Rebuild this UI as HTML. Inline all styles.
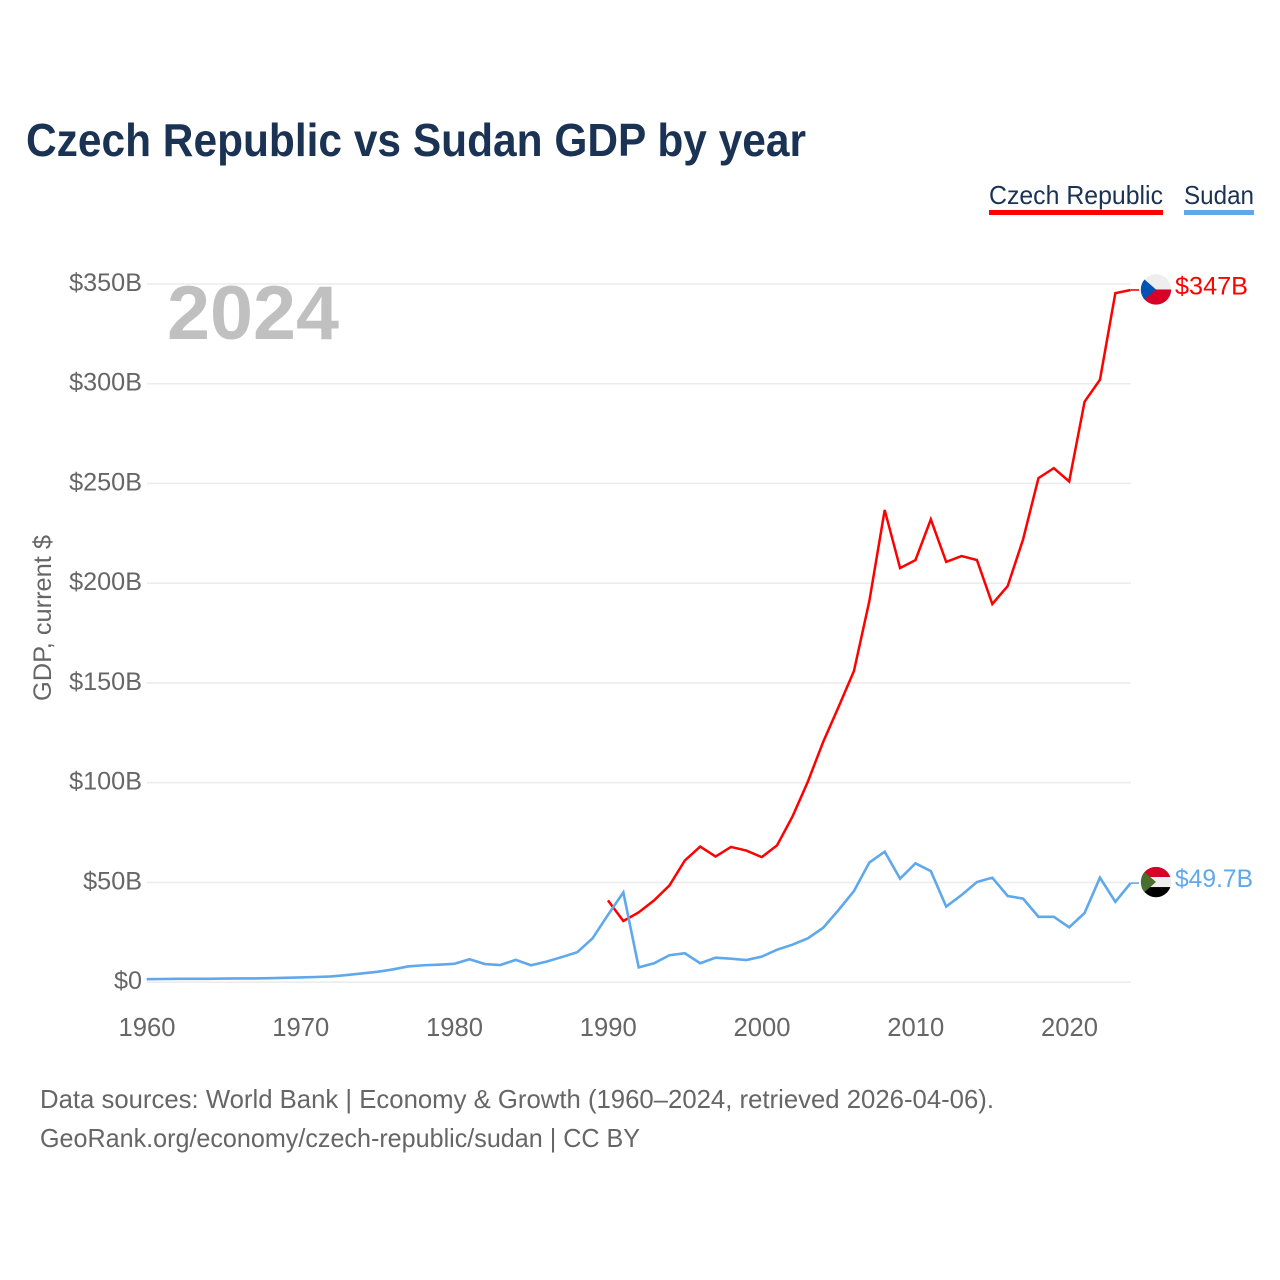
<!DOCTYPE html>
<html lang="en">
<head>
<meta charset="utf-8">
<title>Czech Republic vs Sudan GDP by year</title>
<style>
html,body{margin:0;padding:0;background:#fff}
svg{display:block}
text{font-family:"Liberation Sans",sans-serif}
</style>
</head>
<body>
<svg id="chart" xmlns="http://www.w3.org/2000/svg" width="1280" height="1280" viewBox="0 0 1280 1280">
  <rect width="1280" height="1280" fill="#fff"/>
  <text x="26" y="156" font-size="46" font-weight="700" fill="#1a3254" textLength="780" lengthAdjust="spacingAndGlyphs">Czech Republic vs Sudan GDP by year</text>

  <g>
    <text x="989" y="204" font-size="26" fill="#1a3254" textLength="174" lengthAdjust="spacingAndGlyphs">Czech Republic</text>
    <rect x="989" y="210" width="174" height="5" fill="#ff0000"/>
  </g>
  <g>
    <text x="1184" y="204" font-size="26" fill="#1a3254" textLength="70" lengthAdjust="spacingAndGlyphs">Sudan</text>
    <rect x="1184" y="210" width="70" height="5" fill="#5fa8ec"/>
  </g>

  <g id="grid"></g>
  <g id="y-ticks"></g>
  <g id="x-ticks"></g>

  <text x="167" y="339" font-size="76" font-weight="700" fill="#c0c0c0" textLength="172" lengthAdjust="spacingAndGlyphs">2024</text>
  <text transform="translate(51,701) rotate(-90)" font-size="25" fill="#666" textLength="166" lengthAdjust="spacingAndGlyphs">GDP, current $</text>

  <g id="series"></g>

  <clipPath id="flag-clip"><circle cx="0" cy="0" r="15.2"/></clipPath>
  <g id="flag-czech">
    <g clip-path="url(#flag-clip)">
      <rect x="-16" y="-16" width="32" height="16" fill="#eeeeee"/>
      <rect x="-16" y="0" width="32" height="16" fill="#d80027"/>
      <path d="M-16,-14 L0,0 L-16,14 Z" fill="#0052b4"/>
    </g>
  </g>
  <g id="flag-sudan">
    <g clip-path="url(#flag-clip)">
      <rect x="-16" y="-16" width="32" height="11" fill="#d80027"/>
      <rect x="-16" y="-5" width="32" height="10" fill="#eeeeee"/>
      <rect x="-16" y="5" width="32" height="11" fill="#000000"/>
      <path d="M-16,-14 L0,0 L-16,14 Z" fill="#496e2d"/>
    </g>
  </g>
  <text id="label-czech" x="1175" font-size="25" fill="#ff0000" textLength="73" lengthAdjust="spacingAndGlyphs">$347B</text>
  <text id="label-sudan" x="1175" font-size="25" fill="#5fa8ec" textLength="78" lengthAdjust="spacingAndGlyphs">$49.7B</text>

  <text x="40" y="1108" font-size="26" fill="#666" textLength="954" lengthAdjust="spacingAndGlyphs">Data sources: World Bank | Economy &amp; Growth (1960–2024, retrieved 2026-04-06).</text>
  <text x="40" y="1147" font-size="26" fill="#666" textLength="600" lengthAdjust="spacingAndGlyphs">GeoRank.org/economy/czech-republic/sudan | CC BY</text>
</svg>
<script>
var years = [1960,1961,1962,1963,1964,1965,1966,1967,1968,1969,1970,1971,1972,1973,1974,1975,1976,1977,1978,1979,1980,1981,1982,1983,1984,1985,1986,1987,1988,1989,1990,1991,1992,1993,1994,1995,1996,1997,1998,1999,2000,2001,2002,2003,2004,2005,2006,2007,2008,2009,2010,2011,2012,2013,2014,2015,2016,2017,2018,2019,2020,2021,2022,2023,2024];
var czechGdp = [null,null,null,null,null,null,null,null,null,null,null,null,null,null,null,null,null,null,null,null,null,null,null,null,null,null,null,null,null,null,41,30.7,35,41,48.5,61,68,63,67.8,66,62.7,68.6,83,100.5,120.5,138,156,191,236.7,207.6,211.6,232,210.7,213.6,211.6,189.6,198.6,222,252.7,257.7,251,291,302,345.4,347];
var sudanGdp = [1.5,1.6,1.7,1.7,1.7,1.8,1.9,1.9,2.0,2.2,2.4,2.6,2.9,3.6,4.4,5.2,6.4,7.9,8.5,8.8,9.2,11.5,9.1,8.6,11.2,8.5,10.3,12.6,15,22,33.7,45,7.4,9.5,13.5,14.5,9.5,12.3,11.8,11.1,12.8,16.3,18.8,22,27.3,36.2,45.7,60,65.4,51.9,59.6,55.7,37.9,43.7,50.2,52.4,43.2,41.9,32.8,32.8,27.5,34.7,52.4,40.3,49.7];
var yTickValues = [0,50,100,150,200,250,300,350];
var yTickLabels = ["$0","$50B","$100B","$150B","$200B","$250B","$300B","$350B"];
var xTickValues = [1960,1970,1980,1990,2000,2010,2020];

var NS = "http://www.w3.org/2000/svg";
function xScale(year){ return 146.7 + (year - 1960) * (1130.7 - 146.7) / (2024 - 1960); }
function yScale(v){ return 982.2 - v * (982.2 - 284) / 350; }
function make(tag, attrs, parent){
  var el = document.createElementNS(NS, tag);
  for (var k in attrs) el.setAttribute(k, attrs[k]);
  parent.appendChild(el);
  return el;
}

var grid = document.getElementById("grid");
var yTicks = document.getElementById("y-ticks");
yTickValues.forEach(function(v, i){
  var line = make("line", {x1:147, x2:1131, y1:yScale(v), y2:yScale(v), stroke:"#ececec", "stroke-width":1.6}, grid);
  
  
  var t = make("text", {x:142, y:yScale(v)+7, "text-anchor":"end", "font-size":25.2, fill:"#666"}, yTicks);
  
  
  t.textContent = yTickLabels[i];
});

var xTicks = document.getElementById("x-ticks");
xTickValues.forEach(function(yr){
  var t = make("text", {x:xScale(yr)+0.3, y:1036, "text-anchor":"middle", "font-size":25.6, fill:"#666"}, xTicks);
  
  
  t.textContent = String(yr);
});

function linePoints(values){
  var pts = [];
  values.forEach(function(v, i){
    if (v !== null) pts.push(xScale(years[i]).toFixed(2) + "," + yScale(v).toFixed(2));
  });
  return pts.join(" ");
}
var seriesGroup = document.getElementById("series");
var czechLine = make("polyline", {points:linePoints(czechGdp), fill:"none", stroke:"#ff0000", "stroke-width":2.5, "stroke-linejoin":"miter"}, seriesGroup);


var sudanLine = make("polyline", {points:linePoints(sudanGdp), fill:"none", stroke:"#5fa8ec", "stroke-width":2.6, "stroke-linejoin":"miter"}, seriesGroup);



var lastCzech = czechGdp[czechGdp.length - 1];
var lastSudan = sudanGdp[sudanGdp.length - 1];
var connectorCzech = make("line", {x1:1131, x2:1139, y1:yScale(lastCzech), y2:yScale(lastCzech), stroke:"#ff0000", "stroke-width":1.6}, seriesGroup);


var connectorSudan = make("line", {x1:1131, x2:1139, y1:yScale(lastSudan), y2:yScale(lastSudan), stroke:"#5fa8ec", "stroke-width":1.6}, seriesGroup);



document.getElementById("flag-czech").setAttribute("transform", "translate(1156," + (yScale(lastCzech) - 0.5) + ")");
document.getElementById("flag-sudan").setAttribute("transform", "translate(1156," + (yScale(lastSudan) - 1) + ")");
document.getElementById("label-czech").setAttribute("y", yScale(lastCzech) + 4.5);
document.getElementById("label-sudan").setAttribute("y", yScale(lastSudan) + 4);
</script>
</body>
</html>
